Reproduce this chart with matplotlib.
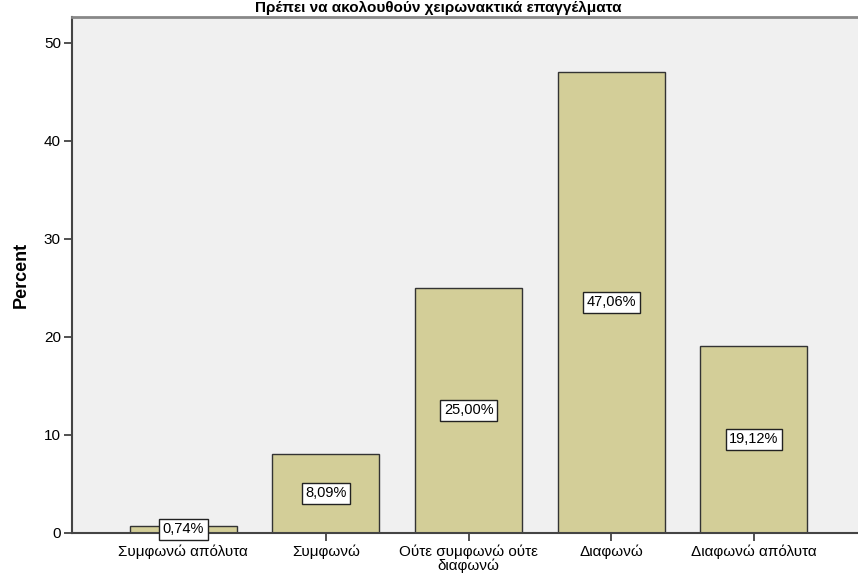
import numpy as np
import matplotlib.pyplot as plt

plt.rcParams['font.family'] = ['Liberation Sans', 'DejaVu Sans']

categories = ['Συμφωνώ απόλυτα', 'Συμφωνώ', 'Ούτε συμφωνώ ούτε\nδιαφωνώ',
              'Διαφωνώ', 'Διαφωνώ απόλυτα']
percent = [0.74, 8.09, 25.00, 47.06, 19.12]
labels = ['0,74%', '8,09%', '25,00%', '47,06%', '19,12%']
title = 'Πρέπει να ακολουθούν χειρωνακτικά επαγγέλματα'

fig = plt.figure(figsize=(8.58, 5.75), dpi=100)
ax = fig.add_axes([72 / 858, 1 - 533 / 575, 786 / 858, 516 / 575])
ax.set_facecolor('#f0f0f0')

x = np.arange(len(categories))
ax.bar(x, percent, width=0.75, color='#d3ce98', edgecolor='#333333', linewidth=1.0, zorder=2)

for xi, v, lab in zip(x, percent, labels):
    ax.text(xi, v / 2, lab, ha='center', va='center', fontsize=10.5, zorder=3,
            bbox=dict(boxstyle='square,pad=0.25', fc='white', ec='#222222', lw=1))

ax.set_xlim(-0.78, 4.73)
ax.set_ylim(0, 52.65)
ax.set_yticks([0, 10, 20, 30, 40, 50])
ax.set_xticks(x)
ax.set_xticklabels(categories, fontsize=11, linespacing=0.95)
ax.tick_params(axis='y', labelsize=11, length=6, width=1.2, color='#333333', pad=2)
ax.tick_params(axis='x', length=6, width=1.2, color='#333333', pad=2)
ax.set_ylabel('Percent', fontsize=13, fontweight='bold', labelpad=10)

ax.spines['right'].set_visible(False)
ax.spines['left'].set_color('#444444')
ax.spines['left'].set_linewidth(1.5)
ax.spines['bottom'].set_color('#444444')
ax.spines['bottom'].set_linewidth(1.5)
ax.spines['top'].set_color('#888888')
ax.spines['top'].set_linewidth(2)

fig.text(438 / 858, 1 - 1 / 575, title, ha='center', va='top', fontsize=11,
         fontweight='bold')

fig.savefig('out.png', dpi=100)
